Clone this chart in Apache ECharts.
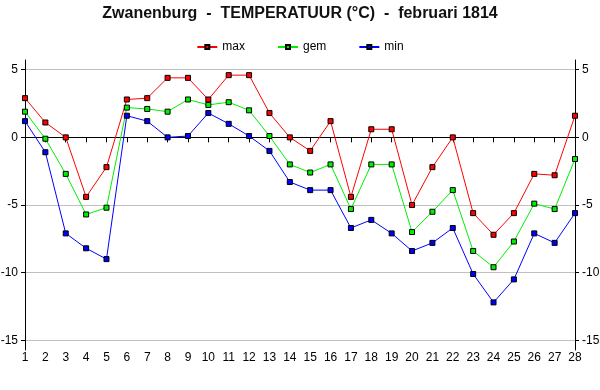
<!DOCTYPE html>
<html>
<head>
<meta charset="utf-8">
<script src="https://cdn.jsdelivr.net/npm/echarts@6/dist/echarts.min.js"></script>
<style>html,body{margin:0;padding:0;background:#fff}#c{width:600px;height:390px}</style>
</head>
<body>
<div id="c"></div>
<script>
var days = ['1','2','3','4','5','6','7','8','9','10','11','12','13','14','15','16','17','18','19','20','21','22','23','24','25','26','27','28'];
var maxT = [2.9,1.1,0.0,-4.4,-2.2,2.8,2.9,4.4,4.4,2.8,4.6,4.6,1.8,0.0,-1.0,1.2,-4.4,0.6,0.6,-5.0,-2.2,0.0,-5.6,-7.2,-5.6,-2.7,-2.8,1.6];
var gemT = [1.9,-0.1,-2.7,-5.7,-5.2,2.2,2.1,1.9,2.8,2.4,2.6,2.0,0.1,-2.0,-2.6,-2.0,-5.3,-2.0,-2.0,-7.0,-5.5,-3.9,-8.4,-9.6,-7.7,-4.9,-5.3,-1.6];
var minT = [1.2,-1.1,-7.1,-8.2,-9.0,1.6,1.2,0.0,0.1,1.8,1.0,0.1,-1.0,-3.3,-3.9,-3.9,-6.7,-6.1,-7.1,-8.4,-7.8,-6.7,-10.1,-12.2,-10.5,-7.1,-7.8,-5.6];
var yTicks = [-15,-10,-5,0,5];
var titleText = 'Zwanenburg  -  TEMPERATUUR (°C)  -  februari 1814';

var FONT = 'Liberation Sans, Arial, sans-serif';
var chart = echarts.init(document.getElementById('c'), null, {renderer:'canvas'});
function yAxis(pos){
  return {
    type:'value', position:pos, min:-15.72, max:5.72, interval:5,
    axisLine:{show:true, lineStyle:{color:'#000', width:1}},
    axisTick:{show:true, length:4, lineStyle:{color:'#000'}, customValues: yTicks},
    axisLabel:{color:'#000', fontSize:12, fontFamily:FONT, margin:7, customValues: yTicks},
    splitLine:{show: pos==='left', lineStyle:{color:'#c0c0c0', width:1}}
  };
}
function series(name, data, color){
  return {
    name:name, type:'line', data:data, xAxisIndex:0, yAxisIndex:0,
    symbol:'rect', symbolSize:5, showAllSymbol:true,
    lineStyle:{color:color, width:1},
    itemStyle:{color:color, borderColor:'#000', borderWidth:1},
    emphasis:{disabled:true}, animation:false
  };
}
chart.setOption({
  animation:false,
  title:{text:titleText, left:'center', top:1, textStyle:{fontSize:16, fontWeight:'bold', color:'#111', fontFamily:FONT}},
  legend:{top:36, left:'center', itemWidth:20, itemHeight:5, itemGap:32,
    textStyle:{fontSize:12, color:'#000', fontFamily:FONT},
    data:['max','gem','min']},
  grid:{left:25, right:25, top:60, bottom:40, containLabel:false, outerBoundsMode:'none'},
  xAxis:[{
    type:'category', data:days, boundaryGap:false, position:'bottom',
    axisLine:{show:true, lineStyle:{color:'#000'}},
    axisTick:{show:true, length:5, inside:false, lineStyle:{color:'#000'}},
    axisLabel:{color:'#000', fontSize:12, fontFamily:FONT, margin:2, interval:0},
    splitLine:{show:false}
  },{
    type:'category', data:days, boundaryGap:false, position:'top',
    axisLine:{show:true, lineStyle:{color:'#000'}},
    axisTick:{show:false}, axisLabel:{show:false}, splitLine:{show:false}
  }],
  yAxis:[yAxis('left'), yAxis('right')],
  series:[series('max', maxT, '#ff0000'), series('gem', gemT, '#00ee00'), series('min', minT, '#0000ff')]
});
</script>
</body>
</html>
